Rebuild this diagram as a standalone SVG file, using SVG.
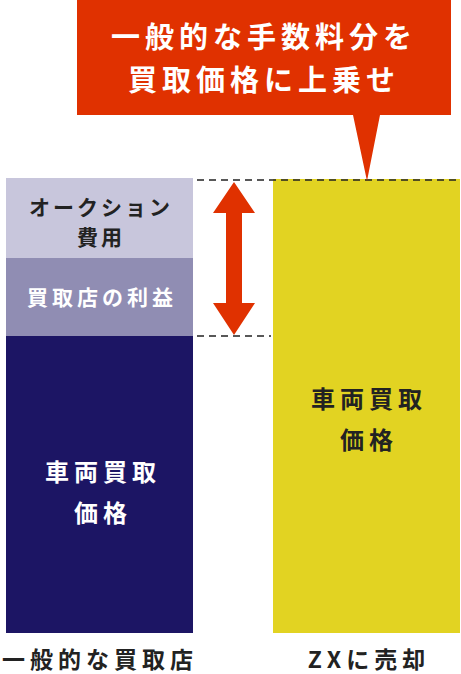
<svg xmlns="http://www.w3.org/2000/svg" width="461" height="674" viewBox="0 0 461 674">
<style>
text{font-family:"Noto Sans CJK JP","Noto Sans",sans-serif;font-weight:bold;text-anchor:middle}
.w{fill:#ffffff}
.d{fill:#222222}
.dash{stroke:#222;stroke-width:1.5;stroke-dasharray:7 5;fill:none}
</style>
<rect width="461" height="674" fill="#ffffff"/>
<g id="left-column">
<rect x="6" y="178" width="187" height="80" fill="#c8c6dc"/>
<rect x="6" y="258" width="187" height="78" fill="#908db3"/>
<rect x="6" y="336" width="187" height="297" fill="#1c1564"/>
</g>
<g id="auction-fee">
<text class="d" x="101" y="215" font-size="21" letter-spacing="3">オークション</text>
<text class="d" x="101" y="245" font-size="21" letter-spacing="3">費用</text>
</g>
<g id="shop-profit">
<text class="w" x="102" y="305" font-size="21" letter-spacing="4">買取店の利益</text>
</g>
<g id="left-price">
<text class="w" x="103" y="481" font-size="24" letter-spacing="5">車両買取</text>
<text class="w" x="103" y="522" font-size="24" letter-spacing="5">価格</text>
</g>
<g id="right-column">
<rect x="273" y="179" width="187" height="454" fill="#e2d322"/>
<text class="d" x="369" y="408" font-size="24" letter-spacing="5">車両買取</text>
<text class="d" x="369" y="449" font-size="24" letter-spacing="5">価格</text>
</g>
<g id="connectors">
<line class="dash" x1="197" y1="180" x2="460" y2="180"/>
<line class="dash" x1="197" y1="336" x2="271" y2="336"/>
<polygon fill="#e03100" points="234,182 255,213 242,213 242,303 255,303 234,335 213,303 226,303 226,213 213,213"/>
</g>
<g id="callout">
<polygon fill="#e03100" points="77,0 451,0 451,115 380,115 367,181 353,115 77,115"/>
<text class="w" x="264" y="48" font-size="29" letter-spacing="5">一般的な手数料分を</text>
<text class="w" x="264" y="91" font-size="29" letter-spacing="5">買取価格に上乗せ</text>
</g>
<g id="labels">
<text class="d" x="100" y="668" font-size="23" letter-spacing="5">一般的な買取店</text>
<text class="d" x="369" y="668" font-size="23" letter-spacing="5">ZXに売却</text>
</g>
</svg>
